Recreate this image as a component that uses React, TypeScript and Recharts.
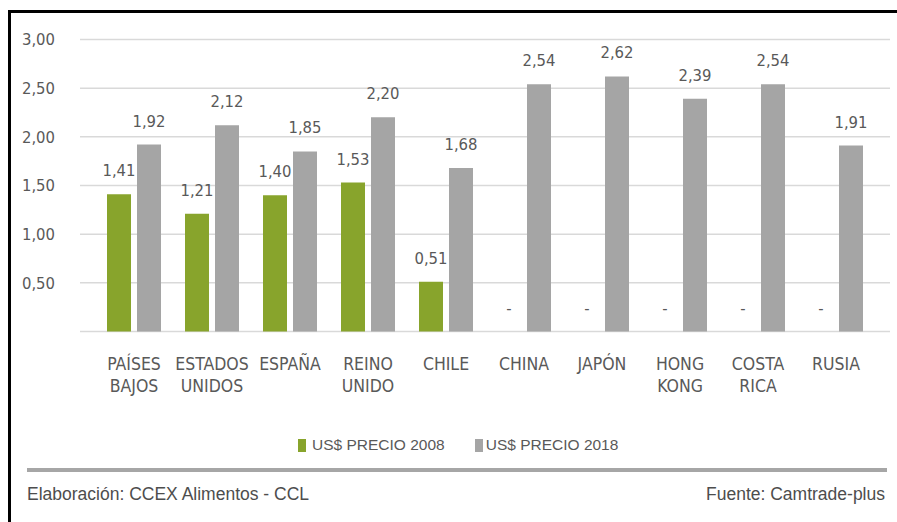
import React from 'react';
import { BarChart, Bar, XAxis, YAxis, CartesianGrid, Legend, LabelList } from 'recharts';

const categories = ['PAÍSES\nBAJOS', 'ESTADOS\nUNIDOS', 'ESPAÑA', 'REINO\nUNIDO', 'CHILE', 'CHINA', 'JAPÓN', 'HONG\nKONG', 'COSTA\nRICA', 'RUSIA'];
const precio2008: (number | null)[] = [1.41, 1.21, 1.40, 1.53, 0.51, null, null, null, null, null];
const precio2018: number[] = [1.92, 2.12, 1.85, 2.20, 1.68, 2.54, 2.62, 2.39, 2.54, 1.91];
const yTicks = [0, 0.5, 1, 1.5, 2, 2.5, 3];
const series2008Name = 'US$ PRECIO 2008';
const series2018Name = 'US$ PRECIO 2018';
const footerLeft = 'Elaboración: CCEX Alimentos - CCL';
const footerRight = 'Fuente: Camtrade-plus';

const NARROW = "'Liberation Sans Narrow', 'Arial Narrow', 'DejaVu Sans Condensed', sans-serif";
const ARIAL = "'Liberation Sans', Arial, sans-serif";
const TEXT = '#595959';
const GREEN = '#88A42C';
const GRAY = '#A5A5A5';
const BAR_SIZE = 24;
const BAR_GAP = 6;

const data = categories.map((c, i) => ({
  name: c,
  p2008: precio2008[i] ?? 0,
  p2018: precio2018[i],
}));

const fmt = (v: number) => v.toFixed(2).replace('.', ',');

const label2008 = (props: any) => {
  const { x, y, width, index } = props;
  const v = precio2008[index];
  if (v == null) return null;
  return (
    <text x={Number(x) + Number(width) / 2} y={Number(y) - 18} textAnchor="middle" fill={TEXT} fontFamily={NARROW} fontSize={16.5}>
      {fmt(v)}
    </text>
  );
};

const label2018 = (props: any) => {
  const { x, y, width, height, index } = props;
  const v = precio2018[index];
  const cx = Number(x) + Number(width) / 2;
  const base = Number(y) + Number(height);
  const missing2008 = precio2008[index] == null;
  return (
    <g>
      <text x={cx} y={Number(y) - 18} textAnchor="middle" fill={TEXT} fontFamily={NARROW} fontSize={16.5}>
        {fmt(v)}
      </text>
      {missing2008 && (
        <text x={cx - BAR_SIZE - BAR_GAP} y={base - 18} textAnchor="middle" fill={TEXT} fontFamily={NARROW} fontSize={16.5}>
          -
        </text>
      )}
    </g>
  );
};

const CategoryTick = (props: any) => {
  const { x, y, payload } = props;
  const lines = String(payload.value).split('\n');
  return (
    <text x={x} y={y + 38} textAnchor="middle" fill={TEXT} fontFamily={NARROW} fontSize={17.5}>
      {lines.map((l, i) => (
        <tspan key={i} x={x} dy={i === 0 ? 0 : 22}>{l}</tspan>
      ))}
    </text>
  );
};

const renderLegend = (props: any) => {
  const payload = props.payload || [];
  return (
    <div style={{ display: 'flex', alignItems: 'center', fontFamily: ARIAL, fontSize: 15.5, color: TEXT, whiteSpace: 'nowrap' }}>
      {payload.map((p: any, i: number) => (
        <div key={i} style={{ display: 'flex', alignItems: 'center', marginRight: i === 0 ? 30 : 0 }}>
          <span style={{ display: 'inline-block', width: 8, height: 13, background: p.color, marginRight: i === 0 ? 6 : 3 }} />
          <span>{p.value}</span>
        </div>
      ))}
    </div>
  );
};

export default function App() {
  return (
    <div style={{ position: 'absolute', left: 0, top: 0, width: 897, height: 522, background: '#fff', overflow: 'hidden' }}>
      <div style={{ position: 'absolute', left: 8, top: 10, width: 889, height: 3, background: '#000' }} />
      <div style={{ position: 'absolute', left: 8, top: 10, width: 3, height: 512, background: '#000' }} />
      <div style={{ position: 'absolute', left: 0, top: 0 }}>
        <BarChart
          width={897}
          height={522}
          data={data}
          margin={{ top: 39.5, right: 7, bottom: 130.5, left: 0 }}
          barSize={BAR_SIZE}
          barGap={BAR_GAP}
        >
          <CartesianGrid vertical={false} stroke="#D9D9D9" strokeWidth={1.5} />
          <XAxis
            dataKey="name"
            axisLine={false}
            tickLine={false}
            tickSize={0}
            tickMargin={0}
            height={60}
            interval={0}
            padding={{ left: 15, right: 15 }}
            tick={<CategoryTick />}
          />
          <YAxis
            width={80}
            domain={[0, 3]}
            ticks={yTicks}
            interval={0}
            axisLine={false}
            tickLine={false}
            tickSize={0}
            tickMargin={25}
            tick={{ fill: TEXT, fontFamily: NARROW, fontSize: 16.5 }}
            tickFormatter={(v: number) => (v === 0 ? '' : fmt(v))}
          />
          <Legend
            layout="horizontal"
            verticalAlign="middle"
            align="center"
            wrapperStyle={{ top: 436, left: 298, width: 360, height: 20 }}
            content={renderLegend}
          />
          <Bar dataKey="p2008" name={series2008Name} fill={GREEN} isAnimationActive={false}>
            <LabelList dataKey="p2008" content={label2008} />
          </Bar>
          <Bar dataKey="p2018" name={series2018Name} fill={GRAY} isAnimationActive={false}>
            <LabelList dataKey="p2018" content={label2018} />
          </Bar>
        </BarChart>
      </div>
      <div style={{ position: 'absolute', left: 27, top: 468, width: 860, height: 4, background: '#A6A6A6' }} />
      <div style={{ position: 'absolute', left: 27, top: 483, fontFamily: ARIAL, fontSize: 17.5, color: '#4D4D4D', whiteSpace: 'nowrap', lineHeight: '22px' }}>
        {footerLeft}
      </div>
      <div style={{ position: 'absolute', right: 12, top: 483, fontFamily: ARIAL, fontSize: 17.5, color: '#4D4D4D', whiteSpace: 'nowrap', lineHeight: '22px' }}>
        {footerRight}
      </div>
    </div>
  );
}
